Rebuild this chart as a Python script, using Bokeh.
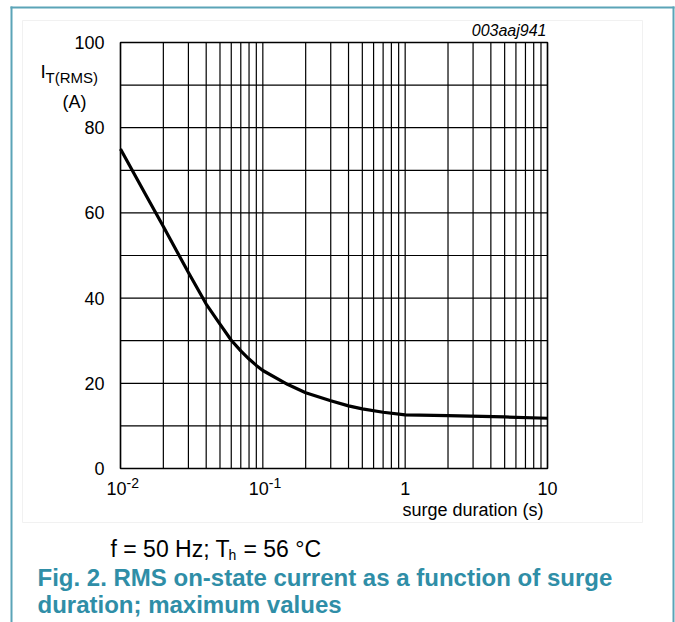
import math
from bokeh.plotting import figure
from bokeh.models import Range1d, Label
from bokeh.embed import file_html
from bokeh.resources import INLINE

# ---- data ----
surge_duration = [0.01, 0.015, 0.02, 0.03, 0.04, 0.05, 0.06, 0.07, 0.08, 0.09, 0.1,
                  0.15, 0.2, 0.3, 0.4, 0.5, 0.7, 1, 2, 5, 10]
it_rms = [75, 64.3, 56.8, 46.0, 38.6, 33.9, 30.1, 27.6, 25.7, 24.2, 23.0,
          19.7, 17.8, 15.9, 14.7, 14.0, 13.2, 12.6, 12.4, 12.1, 11.8]
y_tick_values = [0, 20, 40, 60, 80, 100]
y_grid_step = 10
x_decades = [-2, -1, 0]
x_major_ticks = [0.01, 0.1, 1, 10]
x_tick_labels = [("10", "-2"), ("10", "-1"), ("1", None), ("10", None)]
x_min, x_max = 0.01, 10
y_min, y_max = 0, 100

# ---- layout (pixel geometry of the page) ----
W, H = 675, 622
FL, FR, FT, FB = 120, 547, 42, 468
LMIN, LMAX = math.log10(x_min), math.log10(x_max)

def px2x(X):
    return 10 ** (LMIN + (X - FL) * (LMAX - LMIN) / (FR - FL))

def px2y(Y):
    return y_min + (FB - Y) * (y_max - y_min) / (FB - FT)

FONT = "Liberation Sans"

p = figure(width=W, height=H, x_axis_type="log",
           x_range=Range1d(px2x(0), px2x(W)), y_range=Range1d(px2y(H), px2y(0)),
           x_axis_location=None, y_axis_location=None,
           toolbar_location=None, output_backend="svg", title=None,
           min_border=0)
p.outline_line_color = None
p.background_fill_color = "white"
p.border_fill_color = "white"
p.xgrid.visible = False
p.ygrid.visible = False

# faint backdrop box of the figure image
p.quad(left=px2x(22), right=px2x(642), bottom=px2y(522), top=px2y(20),
       fill_color=None, line_color="#f1f1f1", line_width=1)

# grid
grid_x = [m * 10 ** e for e in x_decades for m in range(1, 10)] + [x_max]
grid_y = list(range(y_min, y_max + 1, y_grid_step))
p.segment(x0=grid_x, y0=[y_min] * len(grid_x), x1=grid_x, y1=[y_max] * len(grid_x),
          line_color="black", line_width=1.2)
p.segment(x0=[x_min] * len(grid_y), y0=grid_y, x1=[x_max] * len(grid_y), y1=grid_y,
          line_color="black", line_width=1.2)
p.quad(left=x_min, right=x_max, bottom=y_min, top=y_max,
       fill_color=None, line_color="black", line_width=1.5)

# curve
p.line(surge_duration, it_rms, line_color="black", line_width=3.2,
       line_join="round", line_cap="butt")

def lab(text, X, Y, size, align="left", baseline="middle", style="normal",
        color="black", font=FONT):
    p.add_layout(Label(x=px2x(X), y=px2y(Y), text=text, text_font=font,
                       text_font_size=f"{size}px", text_align=align,
                       text_baseline=baseline, text_font_style=style,
                       text_color=color))

# y tick labels
for v in y_tick_values:
    Y = FB - (v - y_min) * (FB - FT) / (y_max - y_min)
    lab(str(v), 104, Y, 18, align="right")

# x tick labels
for t, (base, sup) in zip(x_major_ticks, x_tick_labels):
    X = FL + (math.log10(t) - LMIN) * (FR - FL) / (LMAX - LMIN)
    if sup:
        lab(base, X + 6, 488, 18, align="right")
        lab(sup, X + 6, 482, 14, align="left")
    else:
        lab(base, X, 488, 18, align="center")

lab("surge duration (s)", 543, 509, 18, align="right")
lab("003aaj941", 546, 30, 16, align="right", style="italic")

# y axis title
lab("I", 40, 71, 19)
lab("T(RMS)", 45, 77, 15)
lab("(A)", 74, 101, 18, align="center")

# caption
lab("f = 50 Hz; T", 110, 548, 23)
lab("h", 228, 554, 14)
lab("= 56 °C", 243, 548, 23)

TEAL = "#2f8ea7"
lab("Fig. 2. RMS on-state current as a function of surge", 37, 577, 24,
    style="bold", color=TEAL)
lab("duration; maximum values", 37, 604, 24, style="bold", color=TEAL)

# teal frame lines
FRAME = "#5ba4b7"
p.quad(left=px2x(10), right=px2x(674), bottom=px2y(8), top=px2y(6),
       fill_color=FRAME, line_color=None)
p.quad(left=px2x(10), right=px2x(12), bottom=px2y(H), top=px2y(6),
       fill_color=FRAME, line_color=None)
p.quad(left=px2x(672), right=px2x(674), bottom=px2y(H), top=px2y(6),
       fill_color=FRAME, line_color=None)

open("out.html", "w").write(file_html(p, INLINE))
